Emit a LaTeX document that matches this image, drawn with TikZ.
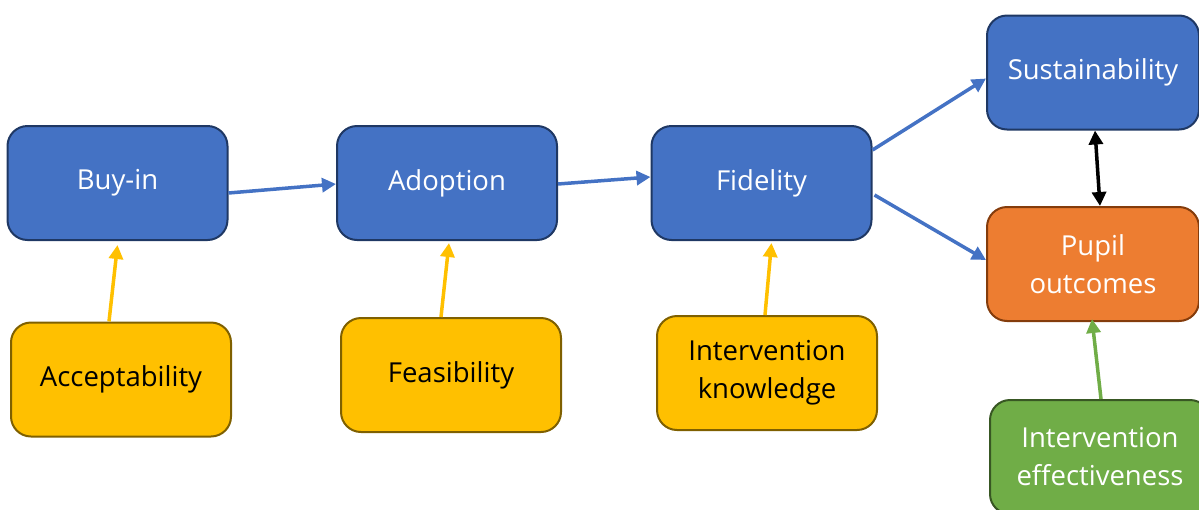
\documentclass[tikz,border=0pt]{standalone}
\usepackage{fontspec}
\setmainfont{Open Sans}
\usetikzlibrary{arrows.meta,calc}
\definecolor{cblue}{HTML}{4472C4}
\definecolor{cblueb}{HTML}{1F3864}
\definecolor{corange}{HTML}{ED7D31}
\definecolor{coranb}{HTML}{843C0C}
\definecolor{cyellow}{HTML}{FFC000}
\definecolor{cyelb}{HTML}{7F6000}
\definecolor{cgreen}{HTML}{70AD47}
\definecolor{cgreenb}{HTML}{385723}
\tikzset{
  box/.style={rectangle, rounded corners=20pt, line width=2pt, minimum width=220pt, minimum height=114pt, inner sep=0pt, align=center, font=\fontsize{27.5}{38}\selectfont},
  bluebox/.style={box, fill=cblue, draw=cblueb, text=white},
  orbox/.style={box, fill=corange, draw=coranb, text=white},
  yelbox/.style={box, fill=cyellow, draw=cyelb, text=black},
  grbox/.style={box, fill=cgreen, draw=cgreenb, text=white},
  arr/.style={line width=3.5pt, -{Triangle[length=14pt,width=14pt]}},
  barr/.style={arr, draw=cblue},
  yarr/.style={arr, draw=cyellow},
  garr/.style={arr, draw=cgreen},
  karr/.style={line width=3.5pt, draw=black, {Triangle[length=14pt,width=14pt]}-{Triangle[length=14pt,width=14pt]}}
}
\begin{document}
\begin{tikzpicture}[x=1pt,y=-1pt]
\useasboundingbox (0,0) rectangle (1199,509);
\node[bluebox] (buy) at (117.5,183) {Buy-in};
\node[bluebox] (ado) at (447,183) {Adoption};
\node[bluebox] (fid) at (761.5,183) {Fidelity};
\node[bluebox, minimum width=212pt] (sus) at (1093,72.5) {Sustainability};
\node[orbox, minimum width=212pt] (pup) at (1093,264) {Pupil\\outcomes};
\node[yelbox] (acc) at (121,379.5) {Acceptability};
\node[yelbox] (fea) at (451,375) {Feasibility};
\node[yelbox] (kno) at (767,373) {Intervention\\knowledge};
\node[grbox] (eff) at (1100,457) {Intervention\\effectiveness};
\draw[barr] ([yshift=-10pt]buy.east) -- ([yshift=-1pt]ado.west);
\draw[barr] ([yshift=-1pt]ado.east) -- ([yshift=6pt]fid.west);
\draw[barr] ([yshift=33pt]fid.east) -- ([yshift=-6pt]sus.west);
\draw[barr] ([xshift=2pt,yshift=-12pt]fid.east) -- ([yshift=4pt]pup.west);
\draw[karr] ([xshift=2pt]sus.south) -- ([xshift=7pt]pup.north);
\draw[yarr] ([xshift=-12pt]acc.north) -- ([yshift=-4pt]buy.south);
\draw[yarr] ([xshift=-10pt]fea.north) -- ([xshift=2pt,yshift=-2pt]ado.south);
\draw[yarr] ([xshift=-2pt]kno.north) -- ([xshift=10pt,yshift=-2pt]fid.south);
\draw[garr] ([xshift=1pt]eff.north) -- ([xshift=-1pt,yshift=3pt]pup.south);
\end{tikzpicture}
\end{document}
